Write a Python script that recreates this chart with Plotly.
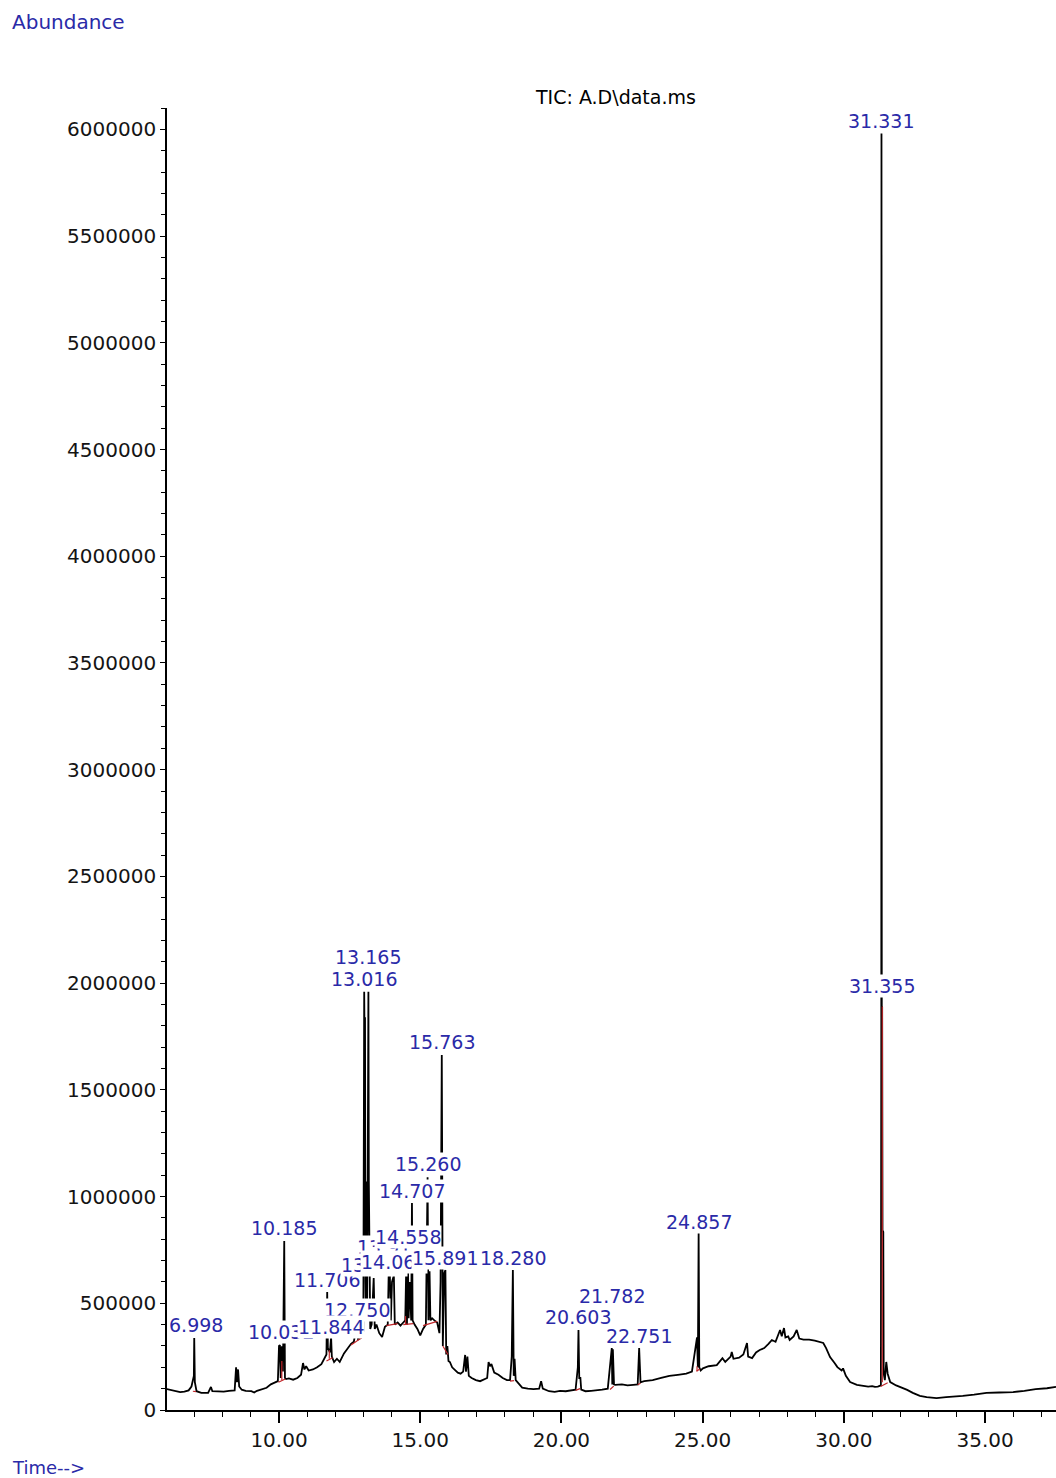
import plotly.graph_objects as go

# Total ion chromatogram: retention time (min) vs abundance
time_min = [
    6.03, 6.16, 6.35, 6.50, 6.65, 6.80, 6.90, 6.96, 6.985, 6.998, 7.02, 7.08,
    7.25, 7.49, 7.59, 7.64, 7.84, 8.04, 8.23, 8.43, 8.48, 8.51, 8.55, 8.59,
    8.68, 8.82, 9.02, 9.12, 9.22, 9.41, 9.56, 9.71, 9.86, 9.96,
    10.00, 10.032, 10.06, 10.10, 10.14, 10.185, 10.21, 10.25, 10.35, 10.50,
    10.65, 10.78, 10.85, 10.90, 10.96, 11.05, 11.20, 11.35, 11.50, 11.60,
    11.68, 11.706, 11.73, 11.80, 11.844, 11.87, 11.95, 12.05, 12.15, 12.30,
    12.40, 12.55, 12.65, 12.750, 12.80, 12.92, 12.985,
    13.000, 13.016, 13.030, 13.045, 13.060, 13.080, 13.100, 13.120, 13.140,
    13.165, 13.180, 13.200, 13.230, 13.280, 13.330, 13.352, 13.390, 13.450,
    13.550, 13.650, 13.750, 13.850, 13.880, 13.913, 13.960, 14.000, 14.066,
    14.100, 14.200, 14.300, 14.400, 14.470, 14.500, 14.530, 14.558, 14.590,
    14.630, 14.680, 14.707, 14.730, 14.800, 14.900, 15.000, 15.100, 15.200,
    15.230, 15.260, 15.290, 15.330, 15.360, 15.420, 15.500, 15.600, 15.680,
    15.720, 15.763, 15.800, 15.850, 15.891, 15.920, 15.960, 16.000, 16.050,
    16.130, 16.230, 16.330, 16.430, 16.520, 16.590, 16.620, 16.670, 16.720,
    16.820, 16.970, 17.120, 17.270, 17.370, 17.420, 17.470, 17.520, 17.620,
    17.770, 17.920, 18.070, 18.180, 18.240, 18.280, 18.310, 18.340, 18.380,
    18.470, 18.610, 18.810, 19.010, 19.210, 19.280, 19.340, 19.560, 19.760,
    19.950, 20.150, 20.350, 20.500, 20.580, 20.603, 20.630, 20.670, 20.700,
    20.850, 21.050, 21.240, 21.440, 21.640, 21.760, 21.782, 21.800, 21.820,
    21.860, 21.900, 22.140, 22.340, 22.540, 22.700, 22.751, 22.780, 22.800,
    22.930, 23.230, 23.530, 23.820, 24.120, 24.420, 24.620, 24.800, 24.830,
    24.857, 24.880, 24.930, 25.010, 25.210, 25.500, 25.700, 25.800, 25.990,
    26.030, 26.090, 26.290, 26.440, 26.570, 26.610, 26.750, 26.890, 27.020,
    27.180, 27.330, 27.450, 27.580, 27.740, 27.800, 27.880, 27.930, 28.030,
    28.080, 28.220, 28.330, 28.420, 28.570, 28.770, 28.970, 29.120, 29.270,
    29.370, 29.510, 29.670, 29.770, 29.920, 29.970, 30.070, 30.220, 30.460,
    30.680, 30.860, 31.000, 31.100, 31.200, 31.310, 31.325, 31.331, 31.342,
    31.355, 31.368, 31.380, 31.395, 31.410, 31.450, 31.500, 31.550, 31.640,
    31.850, 32.050, 32.240, 32.440, 32.690, 32.930, 33.280, 33.620, 33.920,
    34.210, 34.610, 35.050, 35.500, 35.990, 36.390, 36.790, 37.190, 37.510,
]
abundance = [
    98000, 95000, 88000, 84000, 86000, 92000, 110000, 150000, 160000, 337000, 130000, 88000,
    80000, 80000, 108000, 88000, 88000, 86000, 90000, 92000, 200000, 130000, 190000, 110000,
    95000, 90000, 88000, 82000, 90000, 96000, 104000, 120000, 128000, 135000,
    300000, 304000, 150000, 298000, 180000, 792000, 150000, 145000, 148000, 142000,
    150000, 165000, 220000, 190000, 205000, 185000, 190000, 200000, 215000, 240000,
    260000, 553000, 290000, 270000, 342000, 250000, 225000, 240000, 225000, 265000,
    285000, 310000, 320000, 398000, 330000, 340000, 370000,
    1850000, 1960000, 1700000, 1840000, 600000, 420000, 1070000, 450000, 1070000,
    1960000, 1070000, 620000, 380000, 400000, 610000, 618000, 380000, 400000,
    360000, 342000, 390000, 400000, 620000, 700000, 420000, 600000, 630000,
    400000, 410000, 395000, 410000, 420000, 640000, 400000, 759000, 430000,
    600000, 420000, 970000, 420000, 400000, 380000, 350000, 380000, 400000,
    700000, 1090000, 420000, 650000, 420000, 430000, 420000, 410000, 360000,
    600000, 1663000, 300000, 640000, 656000, 260000, 300000, 230000, 225000,
    200000, 185000, 175000, 170000, 180000, 258000, 180000, 250000, 160000,
    150000, 140000, 135000, 145000, 150000, 225000, 205000, 215000, 175000,
    165000, 150000, 140000, 140000, 250000, 656000, 160000, 240000, 140000,
    125000, 105000, 100000, 98000, 100000, 135000, 100000, 88000, 85000,
    90000, 88000, 90000, 95000, 200000, 375000, 150000, 150000, 95000,
    88000, 90000, 92000, 95000, 100000, 290000, 290000, 120000, 285000,
    120000, 118000, 120000, 115000, 118000, 120000, 290000, 160000, 130000,
    135000, 140000, 150000, 160000, 165000, 170000, 180000, 340000, 200000,
    829000, 200000, 185000, 195000, 205000, 210000, 243000, 225000, 250000,
    272000, 240000, 245000, 260000, 314000, 250000, 243000, 270000, 281000,
    290000, 310000, 328000, 320000, 375000, 345000, 384000, 340000, 345000,
    328000, 345000, 375000, 335000, 330000, 330000, 325000, 320000, 314000,
    290000, 248000, 220000, 201000, 185000, 195000, 160000, 131000, 118000,
    112000, 110000, 112000, 108000, 110000, 115000, 1840000, 5980000, 1840000,
    1890000, 834000, 840000, 834000, 170000, 140000, 225000, 170000, 131000,
    115000, 105000, 94000, 80000, 66000, 60000, 56000, 60000, 62000,
    66000, 72000, 80000, 82000, 84000, 90000, 98000, 102000, 108000,
]

# Integration baselines / drop lines (t0, a0, t1, a1)
baselines = [
    (6.95, 88000, 7.06, 86000),
    (9.98, 130000, 10.22, 145000),
    (10.10, 140000, 10.10, 230000),
    (11.68, 230000, 11.90, 245000),
    (11.78, 240000, 11.78, 280000),
    (12.55, 305000, 13.00, 345000),
    (13.80, 395000, 14.20, 405000),
    (14.40, 400000, 14.75, 405000),
    (14.48, 400000, 14.48, 440000),
    (15.10, 395000, 15.60, 415000),
    (15.80, 300000, 15.98, 260000),
    (18.18, 135000, 18.32, 138000),
    (20.50, 92000, 20.66, 100000),
    (21.72, 96000, 21.85, 112000),
    (22.70, 118000, 22.80, 125000),
    (24.78, 182000, 24.90, 192000),
    (24.80, 182000, 24.80, 205000),
    (31.30, 110000, 31.55, 128000),
    (31.36, 130000, 31.36, 1890000),
]

# Peak labels: text, centre time, label height
peak_labels = [
    "31.331", "31.355", "13.165", "13.016", "15.763", "15.260", "14.707",
    "10.185", "13.913", "11.706", "13.352", "14.066", "14.558", "15.891",
    "18.280", "10.032", "12.750", "11.844", "6.998", "20.603", "21.782",
    "22.751", "24.857",
]
label_time = [
    31.331, 31.355, 13.165, 13.016, 15.763, 15.260, 14.707,
    10.185, 13.913, 11.706, 13.352, 14.066, 14.558, 15.891,
    18.280, 10.060, 12.750, 11.844, 7.060, 20.603, 21.782,
    22.751, 24.857,
]
label_level = [
    6039000, 1986000, 2122000, 2019000, 1724000, 1153000, 1026000,
    853000, 764000, 609000, 679000, 693000, 811000, 712000,
    712000, 365000, 468000, 389000, 398000, 436000, 534000,
    347000, 881000,
]

x_ticks = [10, 15, 20, 25, 30, 35]
y_ticks = [0, 500000, 1000000, 1500000, 2000000, 2500000, 3000000,
           3500000, 4000000, 4500000, 5000000, 5500000, 6000000]

LABEL_BLUE = "#2a2aa8"
FONT = "DejaVu Sans"

fig = go.Figure()

fig.add_trace(go.Scatter(
    x=time_min, y=abundance, mode="lines",
    line=dict(color="black", width=1.8),
    hoverinfo="skip", showlegend=False,
))

bx, by = [], []
for t0, a0, t1, a1 in baselines:
    bx += [t0, t1, None]
    by += [a0, a1, None]
fig.add_trace(go.Scatter(
    x=bx, y=by, mode="lines",
    line=dict(color="#c0262a", width=1.2),
    hoverinfo="skip", showlegend=False,
))

annotations = []
for txt, t, lvl in zip(peak_labels, label_time, label_level):
    annotations.append(dict(
        x=t, y=lvl, xref="x", yref="y", text=txt, showarrow=False,
        xanchor="center", yanchor="middle",
        font=dict(family=FONT, size=19, color=LABEL_BLUE),
        bgcolor="white", borderpad=0,
    ))

annotations += [
    dict(x=-0.1766, y=1.0661, xref="paper", yref="paper", text="Abundance",
         showarrow=False, xanchor="left", yanchor="middle",
         font=dict(family=FONT, size=20, color=LABEL_BLUE)),
    dict(x=-0.1766, y=-0.0438, xref="paper", yref="paper", text="Time-->",
         showarrow=False, xanchor="left", yanchor="middle",
         font=dict(family=FONT, size=18, color=LABEL_BLUE)),
    dict(x=0.504, y=1.0084, xref="paper", yref="paper", text="TIC: A.D\\data.ms",
         showarrow=False, xanchor="center", yanchor="middle",
         font=dict(family=FONT, size=19, color="black")),
]

fig.update_layout(
    width=1056, height=1478,
    margin=dict(l=167, r=0, t=108, b=68),
    paper_bgcolor="white", plot_bgcolor="white",
    showlegend=False,
    annotations=annotations,
    xaxis=dict(
        range=[6.034, 37.51], showgrid=False, zeroline=False,
        showline=True, linecolor="black", linewidth=1.6,
        ticks="outside", ticklen=11, tickwidth=1.6, tickcolor="black",
        tickvals=x_ticks, ticktext=[f"{v:.2f}" for v in x_ticks],
        tickfont=dict(family=FONT, size=20, color="#141414"),
        minor=dict(ticks="outside", ticklen=5, tickwidth=1.4, tickcolor="black", dtick=1),
    ),
    yaxis=dict(
        range=[0, 6100000], showgrid=False, zeroline=False,
        showline=True, linecolor="black", linewidth=1.6,
        ticks="outside", ticklen=5, tickwidth=1.4, tickcolor="black",
        tickvals=y_ticks, ticktext=[str(v) for v in y_ticks],
        tickfont=dict(family=FONT, size=20, color="#141414"),
        minor=dict(ticks="outside", ticklen=4, tickwidth=1.2, tickcolor="black", dtick=100000),
    ),
)

fig.write_html("out.html", config={"displayModeBar": False})
